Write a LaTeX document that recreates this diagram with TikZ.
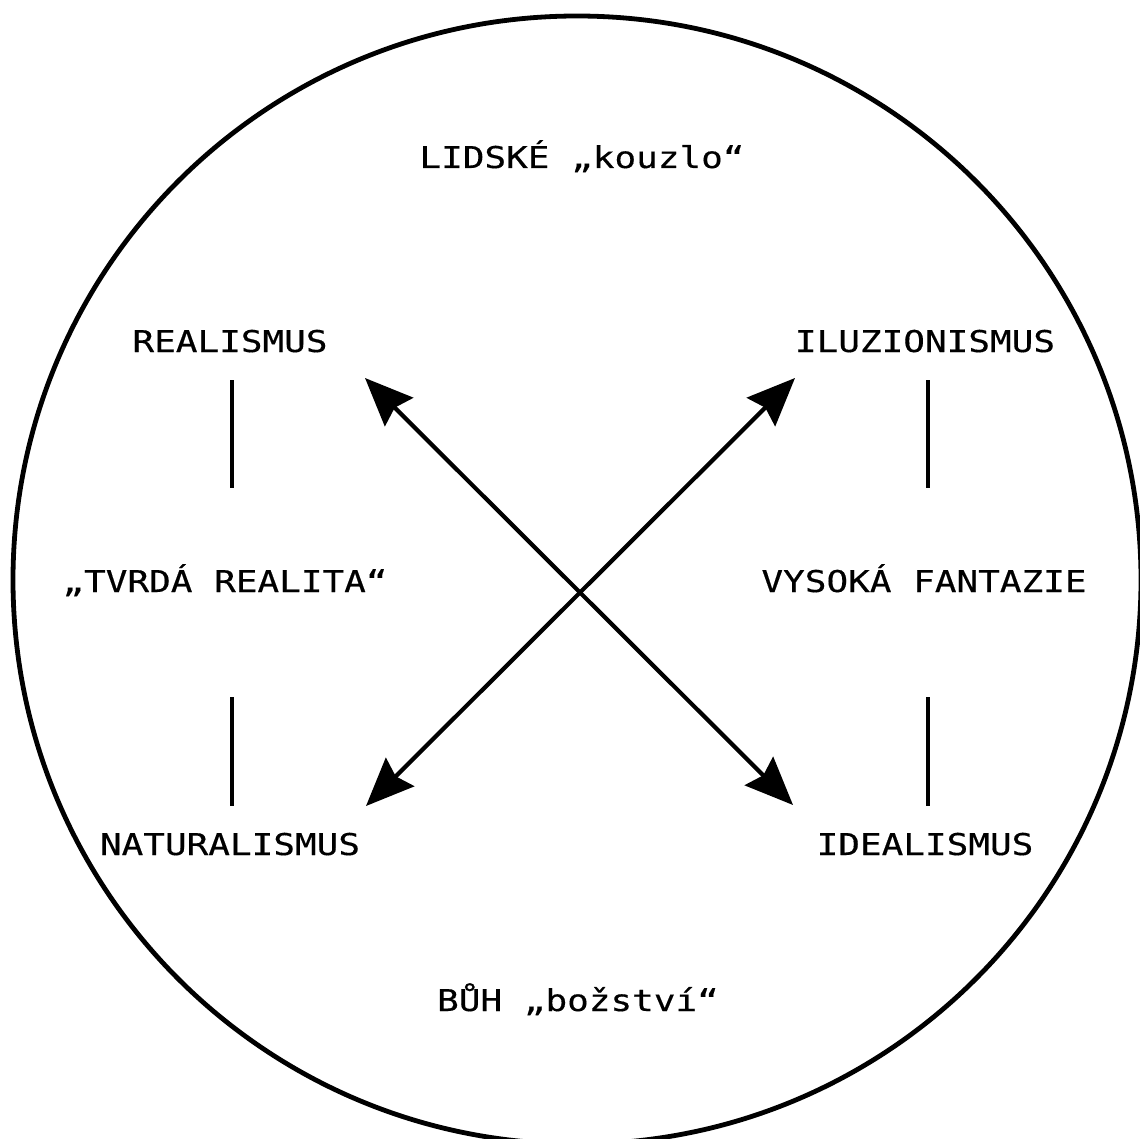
\documentclass[tikz,border=0pt]{standalone}
\usepackage{fontspec}
\newfontfamily\labelfont[FakeStretch=1.2,FakeBold=0.4]{DejaVu Sans Mono}
\usetikzlibrary{arrows.meta,calc}

\begin{document}
\begin{tikzpicture}[
  x=0.5pt,y=-0.5pt,
  lbl/.style={anchor=base,inner sep=0pt,font=\labelfont\fontsize{15}{17}\selectfont},
  bar/.style={draw,line width=2.2pt},
  dbl/.style={draw,line width=2.1pt,{Stealth[length=24pt,width=20pt,inset=3pt]}-{Stealth[length=24pt,width=20pt,inset=3pt]}}
]
  \useasboundingbox (0,0) rectangle (1140,1139);
  \clip (0,0) rectangle (1140,1139);
  \draw[line width=2.4pt] (577,580) circle[radius=564];

  \node[lbl] (kouzlo) at (582,168) {LIDSKÉ „kouzlo“};
  \node[lbl] (real) at (230,352) {REALISMUS};
  \node[lbl] (iluz) at (925,352) {ILUZIONISMUS};
  \node[lbl] (hard) at (225,592) {„TVRDÁ REALITA“};
  \node[lbl] (fant) at (924,592) {VYSOKÁ FANTAZIE};
  \node[lbl] (natur) at (230,855) {NATURALISMUS};
  \node[lbl] (ideal) at (925,855) {IDEALISMUS};
  \node[lbl] (buh) at (578,1011) {BŮH „božství“};

  \coordinate (nw) at (365,378);
  \coordinate (ne) at (795,378);
  \coordinate (sw) at (366,806);
  \coordinate (se) at (793,805);

  \path[bar] ($(real.base)+(2,28)$) -- ($(real.base |- hard.base)+(2,-104)$);
  \path[bar] ($(real.base |- hard.base)+(2,105)$) -- ($(real.base |- natur.base)+(2,-49)$);
  \path[bar] ($(iluz.base)+(3,28)$) -- ($(iluz.base |- fant.base)+(3,-104)$);
  \path[bar] ($(iluz.base |- fant.base)+(3,105)$) -- ($(iluz.base |- ideal.base)+(3,-49)$);

  \path[dbl] (nw) -- (se);
  \path[dbl] (ne) -- (sw);
\end{tikzpicture}
\end{document}
